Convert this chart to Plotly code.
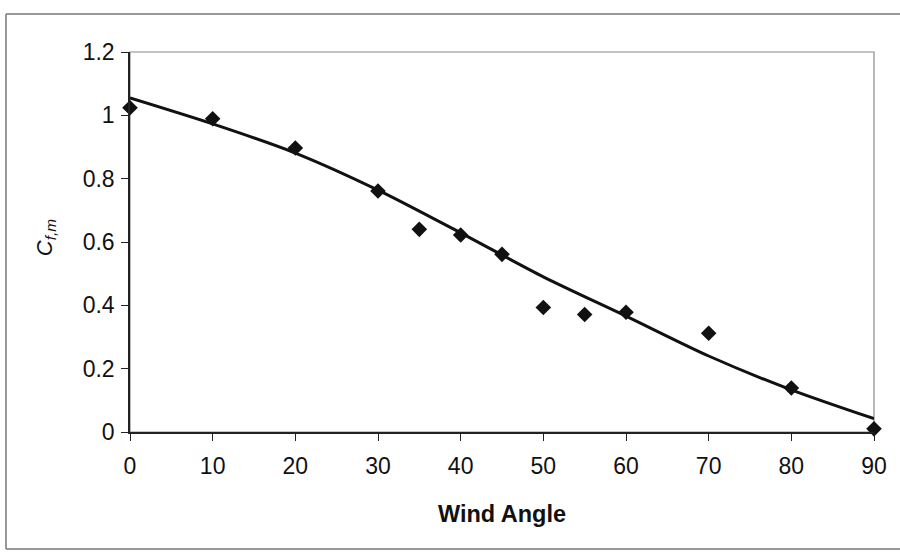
import plotly.graph_objects as go

wind_angle = [0, 10, 20, 30, 35, 40, 45, 50, 55, 60, 70, 80, 90]
cf_m = [1.024, 0.989, 0.897, 0.761, 0.640, 0.622, 0.561, 0.393, 0.371, 0.378, 0.312, 0.139, 0.010]

# Trend line
trend_angle = [0, 10, 20, 30, 40, 50, 60, 70, 80, 90]
trend_cf = [1.055, 0.973, 0.881, 0.764, 0.629, 0.490, 0.366, 0.240, 0.133, 0.042]

x_ticks = [0, 10, 20, 30, 40, 50, 60, 70, 80, 90]
y_ticks = [0, 0.2, 0.4, 0.6, 0.8, 1.0, 1.2]
y_tick_text = ["0", "0.2", "0.4", "0.6", "0.8", "1", "1.2"]

FONT = "Liberation Sans, Arial, sans-serif"

fig = go.Figure()
fig.add_trace(go.Scatter(
    x=trend_angle, y=trend_cf, mode="lines",
    line=dict(color="#111111", width=3, shape="spline", smoothing=0.8),
    showlegend=False, hoverinfo="skip", cliponaxis=False,
))
fig.add_trace(go.Scatter(
    x=wind_angle, y=cf_m, mode="markers",
    marker=dict(symbol="diamond", size=12, color="#111111"),
    showlegend=False, cliponaxis=False,
))

OB_L, OB_R, OB_B, OB_T = -0.1667, 1.05, -0.3079, 1.1
border = dict(color="#777777", width=1.5)

fig.update_layout(
    width=900, height=554,
    margin=dict(l=130, r=26, t=52, b=122),
    paper_bgcolor="white", plot_bgcolor="white",
    font=dict(family=FONT, size=22, color="#111111"),
    xaxis=dict(
        range=[0, 90], tickmode="array", tickvals=x_ticks,
        showgrid=False, zeroline=False,
        showline=True, linecolor="#222222", linewidth=1.5,
        ticks="outside", ticklen=7, tickcolor="#222222",
        ticklabelstandoff=6,
        tickfont=dict(size=23, color="#111111"),
        title=dict(text="<b>Wind Angle</b>", font=dict(size=23.5, color="#111111"), standoff=27),
    ),
    yaxis=dict(
        range=[0, 1.2], tickmode="array", tickvals=y_ticks, ticktext=y_tick_text,
        showgrid=False, zeroline=False,
        showline=True, linecolor="#222222", linewidth=1.5,
        ticks="outside", ticklen=7, tickcolor="#222222",
        ticklabelstandoff=2,
        tickfont=dict(size=23, color="#111111"),
    ),
    shapes=[
        # plot area border (grey)
        dict(type="rect", xref="paper", yref="paper", x0=0, y0=0, x1=1, y1=1,
             line=dict(color="#8a8a8a", width=1.2), layer="below"),
        # outer chart border: left, top, bottom (right edge is off the picture)
        dict(type="line", xref="paper", yref="paper", x0=OB_L, y0=OB_B, x1=OB_L, y1=OB_T,
             line=border, layer="below"),
        dict(type="line", xref="paper", yref="paper", x0=OB_L, y0=OB_T, x1=OB_R, y1=OB_T,
             line=border, layer="below"),
        dict(type="line", xref="paper", yref="paper", x0=OB_L, y0=OB_B, x1=OB_R, y1=OB_B,
             line=border, layer="below"),
    ],
    annotations=[
        dict(text="<i>C<sub>f,m</sub></i>", xref="paper", yref="paper",
             x=-0.1129, y=0.51, showarrow=False, textangle=-90,
             font=dict(family=FONT, size=22, color="#111111"),
             xanchor="center", yanchor="middle"),
    ],
)

fig.write_html(
    "out.html",
    config={"displayModeBar": False},
    post_script="document.body.style.margin='0';document.body.style.overflow='hidden';",
)
